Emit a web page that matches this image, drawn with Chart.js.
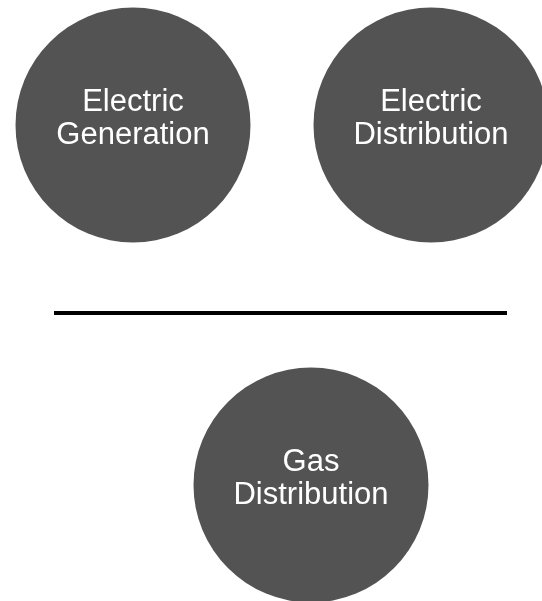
<!DOCTYPE html>
<html>
<head>
<meta charset="utf-8">
<script src="https://cdn.jsdelivr.net/npm/chart.js@4"></script>
<style>
  body { margin: 0; background: #fff; }
  #wrap { width: 542px; height: 601px; }
</style>
</head>
<body>
<div id="wrap"><canvas id="diagram" width="542" height="601"></canvas></div>
<script>
// units on both axes follow the picture's pixel grid
var names = [['Electric', 'Generation'], ['Electric', 'Distribution'], ['Gas', 'Distribution']];
var posX = [133, 431, 311];
var posY = [125, 125, 485];
var sizes = [117.5, 117.5, 117.5];
var dividerX = [54, 507];
var dividerY = [313, 313];

var bubbles = names.map(function (n, i) {
    return { x: posX[i], y: posY[i], r: sizes[i] };
});
var divider = dividerX.map(function (x, i) {
    return { x: x, y: dividerY[i] };
});

var labelPlugin = {
    id: 'circleLabels',
    afterDatasetsDraw: function (chart) {
        var ctx = chart.ctx;
        var meta = chart.getDatasetMeta(0);
        ctx.save();
        ctx.fillStyle = '#ffffff';
        ctx.font = '31px "Liberation Sans", Arial, sans-serif';
        ctx.textAlign = 'center';
        ctx.textBaseline = 'middle';
        meta.data.forEach(function (el, i) {
            var lines = names[i];
            var gap = 33;
            var top = el.y - 6 - (lines.length - 1) * gap / 2;
            lines.forEach(function (t, j) {
                ctx.fillText(t, el.x, top + j * gap);
            });
        });
        ctx.restore();
    }
};

var ctx = document.getElementById('diagram').getContext('2d');
new Chart(ctx, {
    type: 'bubble',
    data: {
        datasets: [{
            data: bubbles,
            backgroundColor: '#535353',
            borderWidth: 0,
            hoverBorderWidth: 0,
            hoverRadius: 0,
            clip: false
        }, {
            type: 'line',
            data: divider,
            borderColor: '#000000',
            borderWidth: 4,
            pointRadius: 0,
            fill: false
        }]
    },
    options: {
        responsive: false,
        animation: false,
        layout: { padding: 0, autoPadding: false },
        plugins: {
            legend: { display: false },
            tooltip: { enabled: false }
        },
        scales: {
            x: { type: 'linear', min: 0, max: 542, display: false },
            y: { type: 'linear', min: 0, max: 601, reverse: true, display: false }
        }
    },
    plugins: [labelPlugin]
});
</script>
</body>
</html>
